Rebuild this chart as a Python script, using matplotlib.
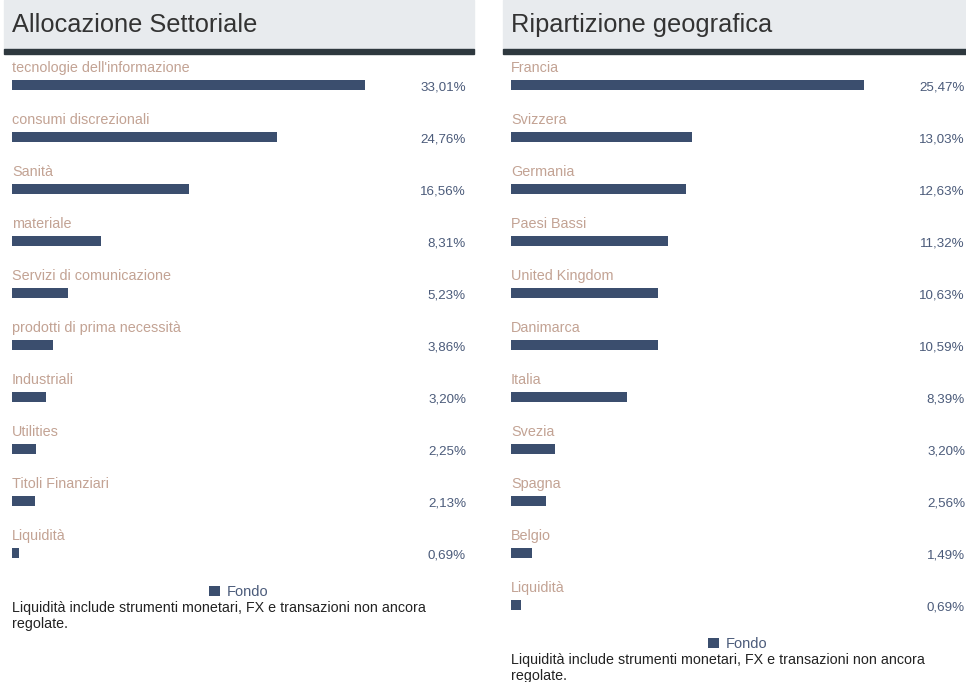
import matplotlib
matplotlib.use("Agg")
import matplotlib.pyplot as plt
from matplotlib.patches import Rectangle
from matplotlib.transforms import blended_transform_factory

plt.rcParams['font.family'] = ['Liberation Sans', 'DejaVu Sans']

# data
sector_labels = ["tecnologie dell'informazione", "consumi discrezionali", "Sanità", "materiale",
                 "Servizi di comunicazione", "prodotti di prima necessità", "Industriali",
                 "Utilities", "Titoli Finanziari", "Liquidità"]
sector_values = [33.01, 24.76, 16.56, 8.31, 5.23, 3.86, 3.20, 2.25, 2.13, 0.69]

country_labels = ["Francia", "Svizzera", "Germania", "Paesi Bassi", "United Kingdom", "Danimarca",
                  "Italia", "Svezia", "Spagna", "Belgio", "Liquidità"]
country_values = [25.47, 13.03, 12.63, 11.32, 10.63, 10.59, 8.39, 3.20, 2.56, 1.49, 0.69]

titles = ["Allocazione Settoriale", "Ripartizione geografica"]
legend_label = "Fondo"
footnote = ["Liquidità include strumenti monetari, FX e transazioni non ancora", "regolate."]

W, H = 966, 682
bar_color = "#3b4e6e"
label_color = "#c3a394"
pct_color = "#4b5b7a"
header_bg = "#e8ebee"
header_line = "#2e383e"

fig = plt.figure(figsize=(W / 100, H / 100), dpi=100)
fig.patch.set_facecolor("white")

ROW = 52
TOP = 59


def panel(x0, hx0, hx1, title, labels, values):
    # header band
    fig.patches.append(Rectangle((hx0 / W, 1 - 49 / H), (hx1 - hx0) / W, 49 / H,
                                 transform=fig.transFigure, color=header_bg, zorder=0))
    fig.patches.append(Rectangle((hx0 / W, 1 - 54 / H), (hx1 - hx0) / W, 5 / H,
                                 transform=fig.transFigure, color=header_line, zorder=0))
    fig.text(x0 / W, 1 - 25 / H, title, fontsize=18.3, color="#333333", va="center", ha="left")

    n = len(values)
    ax = fig.add_axes([x0 / W, 1 - (TOP + ROW * n) / H, 454 / W, ROW * n / H])
    bars = ax.barh(range(n), values, height=0.19, color=bar_color)
    ax.set_xlim(0, max(values) * 454 / 353)
    ax.set_ylim(n - 0.5, -0.5)
    ax.axis("off")
    tr = blended_transform_factory(ax.transAxes, ax.transData)
    for i, (lab, v) in enumerate(zip(labels, values)):
        ax.text(0, i - 0.33, lab, fontsize=10.4, color=label_color, ha="left", va="center")
        ax.text(1, i + 0.04, f"{v:.2f}%".replace(".", ","), fontsize=9.6, color=pct_color,
                ha="right", va="center", transform=tr)

    leg_px = TOP + 26 + ROW * (n - 1) + 39
    leg_y = 1 - (leg_px - TOP) / (ROW * n)
    leg = ax.legend([bars], [legend_label], loc="center", bbox_to_anchor=(0.5, leg_y),
                    frameon=False, fontsize=10.5, handlelength=0.7, handleheight=0.7,
                    handletextpad=0.5, borderpad=0)
    for t in leg.get_texts():
        t.set_color(pct_color)
    for k, line in enumerate(footnote):
        fig.text(x0 / W, 1 - (leg_px + 16 + 16 * k) / H, line, fontsize=10.3, color="#222222",
                 ha="left", va="center")


panel(12, 4, 474, titles[0], sector_labels, sector_values)
panel(511, 503, 966, titles[1], country_labels, country_values)

fig.savefig("out.png", dpi=100)
